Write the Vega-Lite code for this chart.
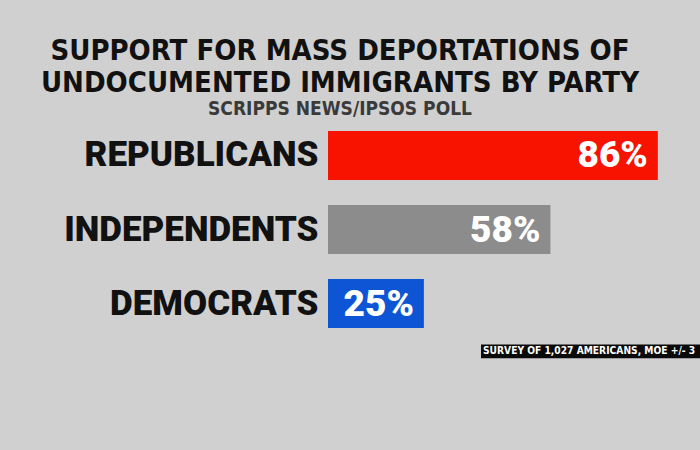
{
  "$schema": "https://vega.github.io/schema/vega-lite/v6.json",
  "autosize": {"type": "none"},
  "padding": {"left": 328, "top": 120, "right": 0, "bottom": 0},
  "width": 372,
  "height": 330,
  "background": "#d0d0d0",
  "config": {"view": {"stroke": null}},
  "title": {
    "text": ["SUPPORT FOR MASS DEPORTATIONS OF", "UNDOCUMENTED IMMIGRANTS BY PARTY"],
    "subtitle": "SCRIPPS NEWS/IPSOS POLL",
    "anchor": "middle",
    "frame": "group",
    "dx": -174,
    "font": "DejaVu Sans Condensed",
    "fontWeight": "bold",
    "fontSize": 29,
    "lineHeight": 32,
    "color": "#111111",
    "subtitleFont": "DejaVu Sans Condensed",
    "subtitleFontWeight": "bold",
    "subtitleFontSize": 19,
    "subtitleColor": "#3a3a3a",
    "subtitlePadding": 2,
    "offset": 1
  },
  "datasets": {
    "poll": [
      {"party": "REPUBLICANS", "pct": 86, "label": "86%"},
      {"party": "INDEPENDENTS", "pct": 58, "label": "58%"},
      {"party": "DEMOCRATS", "pct": 25, "label": "25%"}
    ],
    "note": [
      {"text": "SURVEY OF 1,027 AMERICANS, MOE +/- 3"}
    ]
  },
  "layer": [
    {
      "data": {"name": "poll"},
      "mark": {"type": "bar"},
      "encoding": {
        "y": {
          "field": "party",
          "type": "nominal",
          "sort": ["REPUBLICANS", "INDEPENDENTS", "DEMOCRATS"],
          "scale": {"domain": ["REPUBLICANS", "INDEPENDENTS", "DEMOCRATS"], "range": [11, 208], "paddingInner": 0.34, "paddingOuter": 0},
          "axis": {
            "title": null,
            "domain": false,
            "ticks": false,
            "labelPadding": 10,
            "labelFont": "Roboto",
            "labelFontWeight": 900,
            "labelFontSize": 35,
            "labelColor": "#111111",
            "labelLimit": 320
          }
        },
        "x": {
          "field": "pct",
          "type": "quantitative",
          "scale": {"domain": [0, 97], "nice": false, "zero": true},
          "axis": null
        },
        "color": {
          "field": "party",
          "type": "nominal",
          "scale": {"domain": ["REPUBLICANS", "INDEPENDENTS", "DEMOCRATS"], "range": ["#f81200", "#8c8c8c", "#0d55d4"]},
          "legend": null
        }
      }
    },
    {
      "data": {"name": "poll"},
      "mark": {"type": "text", "align": "right", "baseline": "middle", "dx": -10, "dy": 1, "font": "Roboto", "fontWeight": 900, "fontSize": 37, "color": "white"},
      "encoding": {
        "y": {"field": "party", "type": "nominal", "sort": ["REPUBLICANS", "INDEPENDENTS", "DEMOCRATS"]},
        "x": {"field": "pct", "type": "quantitative"},
        "text": {"field": "label"}
      }
    },
    {
      "data": {"name": "note"},
      "mark": {"type": "rect", "color": "#0a0a0a"},
      "encoding": {
        "x": {"datum": 39.9, "type": "quantitative"},
        "x2": {"datum": 100},
        "y": {"datum": "DEMOCRATS", "type": "nominal", "bandPosition": 1.34},
        "y2": {"datum": "DEMOCRATS", "bandPosition": 1.62}
      }
    },
    {
      "data": {"name": "note"},
      "mark": {"type": "text", "align": "left", "baseline": "middle", "font": "DejaVu Sans Condensed", "fontWeight": "bold", "fontSize": 10.2, "color": "white"},
      "encoding": {
        "x": {"datum": 40.4, "type": "quantitative"},
        "y": {"datum": "DEMOCRATS", "type": "nominal", "bandPosition": 1.48},
        "text": {"field": "text"}
      }
    }
  ]
}
